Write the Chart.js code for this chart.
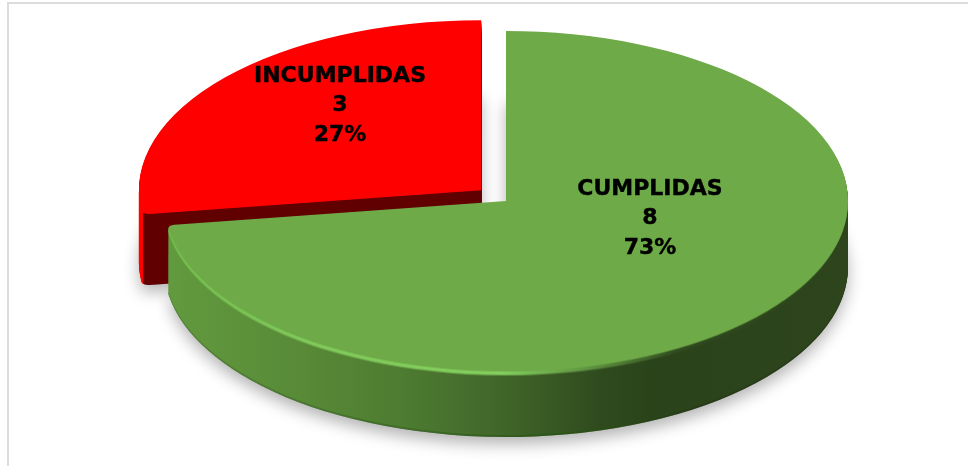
<!DOCTYPE html>
<html>
<head>
<meta charset="utf-8">
<style>html,body{margin:0;padding:0;background:#fff}canvas{display:block}</style>
<script src="https://cdn.jsdelivr.net/npm/chart.js@4"></script>
</head>
<body>
<canvas id="c" width="968" height="466"></canvas>
<script>
const categories = ['CUMPLIDAS', 'INCUMPLIDAS'];
const values = [8, 3];
const percents = ['73%', '27%'];
const explode = [0, 75];

const VIEW = {cx: 506, cy: 201, rx: 342, ry: 170, depths: [66, 71]};
const LABEL_POS = [{x: 650, y: 189}, {x: 340, y: 76}];
const LINE_H = 29.5;
const FONT = 'bold 22px "DejaVu Sans"';

const WALLS = [
  [[168,'#629a3e'],[300,'#588a37'],[400,'#4e7c31'],[500,'#41662a'],[600,'#2f4b1e'],[650,'#2b431a'],[848,'#2d441c']],
  [[139,'#ff0000'],[143,'#ff0000'],[143.6,'#600000'],[500,'#600000']]
];
const HILITE = [[168,'#74bd4d'],[300,'#80c95a'],[500,'#84d05e'],[590,'#5f9340'],[680,'#2f4a1e'],[848,'#2d441c']];
const EDGE = [[168,'#558636'],[400,'#3f6d28'],[560,'#2c5418'],[700,'#263b17'],[848,'#263b17']];
const TOPS = ['#6EAA47', '#FF0000'];

const pie3d = {
  id: 'pie3d',
  beforeDatasetsDraw(chart) {
    const ctx = chart.ctx;
    const arcs = chart.getDatasetMeta(0).data;
    const R = arcs[0].outerRadius;
    const sx = VIEW.rx / R, sy = VIEW.ry / R;
    const gradFor = (arc, stops) => {
      const mid = (arc.startAngle + arc.endAngle) / 2;
      const shift = Math.cos(mid) * (arc.options.offset || 0) / 4;
      const vx = s => arc.x + (s - VIEW.cx) / sx - shift;
      const x0 = stops[0][0], x1 = stops[stops.length - 1][0];
      const g = ctx.createLinearGradient(vx(x0), 0, vx(x1), 0);
      stops.forEach(([s, c]) => g.addColorStop((s - x0) / (x1 - x0), c));
      return g;
    };
    const paint = (arc, fill, dy, alpha, shadow) => {
      const opts = arc.options;
      arc.options = Object.assign(Object.create(opts), {backgroundColor: fill, borderWidth: 0});
      ctx.save();
      ctx.globalAlpha = alpha;
      if (shadow) {
        ctx.shadowColor = 'rgba(0,0,0,0.3)';
        ctx.shadowBlur = 16;
        ctx.shadowOffsetY = 7;
      }
      ctx.translate(VIEW.cx, VIEW.cy + dy);
      ctx.scale(sx, sy);
      ctx.translate(-arc.x, -arc.y);
      arc.draw(ctx);
      ctx.restore();
      arc.options = opts;
    };
    [1, 0].forEach(i => paint(arcs[i], '#888', VIEW.depths[i], 1, true));
    [1, 0].forEach(i => {
      const arc = arcs[i];
      const wall = gradFor(arc, WALLS[i]);
      const depth = VIEW.depths[i];
      for (let d = depth; d >= 1; d--) {
        const fill = (i === 0 && d >= depth - 1) ? gradFor(arc, EDGE) : wall;
        paint(arc, fill, d, 1, false);
      }
      if (i === 0) {
        const hi = gradFor(arc, HILITE);
        paint(arc, hi, 5, 0.35, false);
        paint(arc, hi, 4, 0.75, false);
        paint(arc, hi, 3, 1, false);
        paint(arc, hi, 2, 1, false);
        paint(arc, TOPS[0], 1, 0.5, false);
      }
      paint(arc, TOPS[i], 0, 1, false);
    });
    return false;
  },
  afterDraw(chart) {
    const ctx = chart.ctx;
    ctx.save();
    ctx.fillStyle = '#dcdcdc';
    ctx.fillRect(7, 2, 961, 2);
    ctx.fillRect(7, 2, 2, 464);
    ctx.fillStyle = '#000';
    ctx.strokeStyle = '#000';
    ctx.lineWidth = 0.4;
    ctx.font = FONT;
    ctx.textAlign = 'center';
    ctx.textBaseline = 'middle';
    categories.forEach((name, i) => {
      const p = LABEL_POS[i];
      [name, String(values[i]), percents[i]].forEach((t, k) => {
        ctx.fillText(t, p.x, p.y + k * LINE_H);
        ctx.strokeText(t, p.x, p.y + k * LINE_H);
      });
    });
    ctx.restore();
  }
};

new Chart(document.getElementById('c'), {
  type: 'pie',
  data: {
    labels: categories,
    datasets: [{
      data: values,
      backgroundColor: TOPS,
      borderWidth: 0,
      offset: explode,
      borderRadius: c => c.dataIndex === 0 ? {outerEnd: 4} : {outerStart: 4}
    }]
  },
  options: {
    responsive: false,
    animation: false,
    events: [],
    plugins: {legend: {display: false}, tooltip: {enabled: false}, title: {display: false}}
  },
  plugins: [pie3d]
});
</script>
</body>
</html>
